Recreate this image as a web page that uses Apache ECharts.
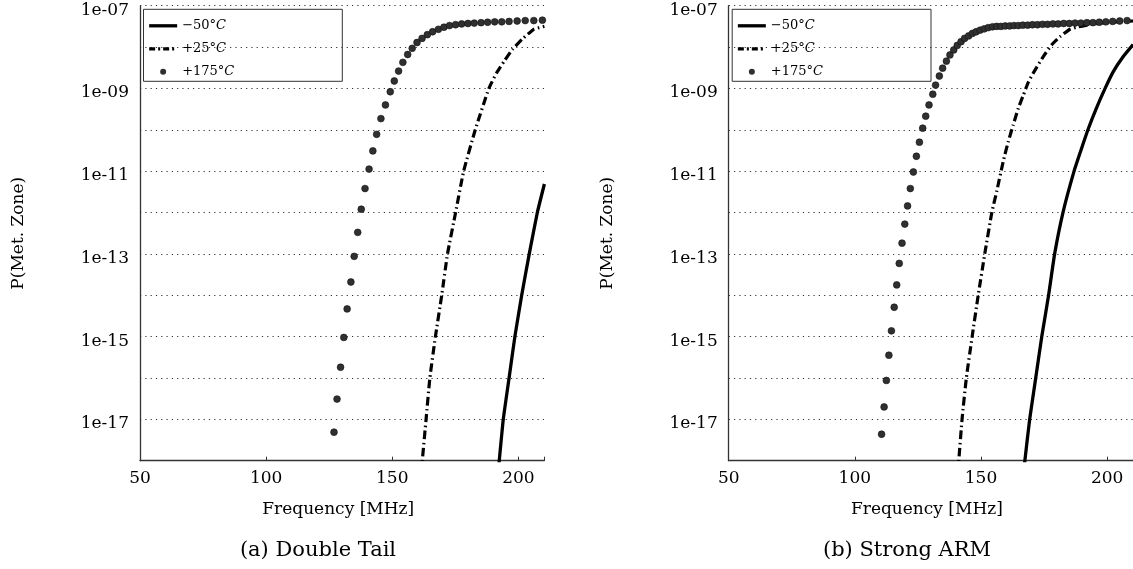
<!DOCTYPE html>
<html><head><meta charset="utf-8">
<script src="https://cdn.jsdelivr.net/npm/echarts@6/dist/echarts.min.js"></script>
<style>html,body{margin:0;padding:0;background:#fff}#c{width:1133px;height:569px}</style>
</head><body><div id="c"></div>
<script>
// ---- labels ----
const seriesNames = ['\u221250\u00b0C', '+25\u00b0C', '+175\u00b0C'];
const subplotTitles = ['(a) Double Tail', '(b) Strong ARM'];
const xAxisTitle = 'Frequency [MHz]';
const yAxisTitle = 'P(Met. Zone)';
const xTickValues = [50, 100, 150, 200];
const yLabelExponents = [-7, -9, -11, -13, -15, -17];
const xRange = [50, 210.3];
const yExpRange = [-18, -7];

// ---- (a) Double Tail : frequency [MHz] and log10 P ----
const dtFreqM50 = [192.1, 192.4, 194.0, 196.3, 198.6, 201.3, 204.3, 207.5, 210.3];
const dtLogPM50 = [-18.2, -18.0, -17.0, -16.0, -15.0, -14.0, -13.0, -12.0, -11.31];
const dtFreqP25 = [161.6, 161.9, 163.4, 164.9, 167.1, 169.6, 171.9, 175.1, 178.3, 182.9, 188.3, 191.5, 194.4, 197.6, 201.5, 206.1, 210.3];
const dtLogPP25 = [-18.3, -18.0, -17.0, -16.0, -15.0, -14.0, -13.0, -12.0, -11.0, -10.0, -9.0, -8.61, -8.34, -8.06, -7.81, -7.57, -7.50];
const dtFreqP175 = [126.9, 128.1, 129.5, 130.8, 132.1, 133.6, 134.9, 136.3, 137.7, 139.2, 140.8, 142.3, 143.8, 145.5, 147.3, 149.2, 150.8, 152.5, 154.2, 156.1, 157.9, 159.8, 161.8, 163.9, 166.0, 168.3, 170.5, 172.7, 175.1, 177.5, 180.0, 182.5, 185.2, 187.8, 190.6, 193.4, 196.3, 199.5, 202.7, 206.1, 209.5];
const dtLogPP175 = [-17.31, -16.51, -15.74, -15.02, -14.33, -13.68, -13.06, -12.48, -11.92, -11.42, -10.95, -10.51, -10.11, -9.73, -9.40, -9.08, -8.82, -8.58, -8.37, -8.18, -8.03, -7.89, -7.79, -7.70, -7.63, -7.57, -7.52, -7.48, -7.46, -7.44, -7.43, -7.42, -7.41, -7.40, -7.39, -7.39, -7.38, -7.37, -7.36, -7.36, -7.35];

// ---- (b) Strong ARM ----
const saFreqM50 = [167.1, 167.4, 169.3, 171.7, 174.1, 176.8, 179.2, 182.5, 186.9, 189.6, 192.4, 195.6, 199.2, 202.4, 206.4, 210.3];
const saLogPM50 = [-18.2, -18.0, -17.0, -16.0, -15.0, -14.0, -13.0, -12.0, -11.0, -10.5, -10.0, -9.5, -9.0, -8.60, -8.23, -7.94];
const saFreqP25 = [140.9, 141.2, 142.5, 144.2, 146.5, 148.9, 151.5, 154.3, 156.2, 158.8, 160.8, 162.8, 164.8, 166.8, 168.7, 171.0, 174.7, 178.0, 181.3, 185.3, 188.6, 195.0, 202.0, 210.3];
const saLogPP25 = [-18.3, -18.0, -17.0, -16.0, -15.0, -14.0, -13.0, -12.0, -11.5, -10.77, -10.29, -9.88, -9.48, -9.16, -8.86, -8.60, -8.23, -7.95, -7.75, -7.57, -7.51, -7.44, -7.40, -7.37];
const saFreqP175 = [110.6, 111.6, 112.5, 113.5, 114.5, 115.6, 116.6, 117.6, 118.7, 119.8, 120.9, 122.0, 123.2, 124.4, 125.6, 126.9, 128.1, 129.4, 130.9, 132.0, 133.5, 134.8, 136.3, 137.7, 139.2, 140.6, 142.1, 143.5, 145.1, 146.6, 148.1, 149.7, 151.3, 152.9, 154.6, 156.2, 157.9, 159.6, 161.4, 163.1, 164.8, 166.6, 168.5, 170.4, 172.4, 174.4, 176.4, 178.5, 180.6, 182.8, 185.0, 187.3, 189.6, 192.0, 194.4, 196.9, 199.5, 202.2, 205.0, 207.9];
const saLogPP175 = [-17.36, -16.70, -16.06, -15.45, -14.86, -14.29, -13.75, -13.23, -12.74, -12.28, -11.84, -11.42, -11.02, -10.64, -10.30, -9.96, -9.67, -9.40, -9.14, -8.92, -8.70, -8.51, -8.34, -8.19, -8.07, -7.96, -7.87, -7.79, -7.73, -7.67, -7.63, -7.59, -7.56, -7.53, -7.51, -7.50, -7.50, -7.49, -7.49, -7.48, -7.48, -7.47, -7.47, -7.46, -7.46, -7.45, -7.45, -7.44, -7.44, -7.43, -7.43, -7.42, -7.42, -7.41, -7.41, -7.40, -7.39, -7.38, -7.37, -7.36];

// ---- build ----
const FONT = 'DejaVu Serif';
const zip = (a, b) => a.map((v, i) => [v, b[i]]);
const panels = [
  { m50: zip(dtFreqM50, dtLogPM50), p25: zip(dtFreqP25, dtLogPP25), p175: zip(dtFreqP175, dtLogPP175) },
  { m50: zip(saFreqM50, saLogPM50), p25: zip(saFreqP25, saLogPP25), p175: zip(saFreqP175, saLogPP175) }
];
const gridLefts = [140, 728.7];
const subtitleX = [318, 907];
const dashDot = [8.5, 3.5, 1.5, 3.5];

const grids = [], xAxes = [], yAxes = [], series = [], legends = [], graphics = [];
panels.forEach((p, i) => {
  grids.push({ left: gridLefts[i], top: 5.7, width: 404.4, height: 455, containLabel: false, outerBoundsMode: 'none' });
  xAxes.push({
    type: 'value', gridIndex: i, min: xRange[0], max: xRange[1], interval: 50,
    name: xAxisTitle, nameLocation: 'middle', nameGap: 40,
    nameTextStyle: { fontFamily: FONT, fontSize: 17, color: '#000', padding: [0, 8, 0, 0] },
    axisLine: { show: true, onZero: false, lineStyle: { color: '#333', width: 1.3 } },
    axisTick: { show: true, inside: true, length: 4, lineStyle: { color: '#333' } },
    axisLabel: { margin: 9, fontFamily: FONT, fontSize: 17, color: '#000',
      formatter: v => xTickValues.includes(v) ? String(v) : '' },
    splitLine: { show: false }
  });
  yAxes.push({
    type: 'value', gridIndex: i, min: yExpRange[0], max: yExpRange[1], interval: 1,
    name: yAxisTitle, nameLocation: 'middle', nameGap: 113,
    nameTextStyle: { fontFamily: FONT, fontSize: 17, color: '#000' },
    axisLine: { show: true, onZero: false, lineStyle: { color: '#333', width: 1.3 } },
    axisTick: { show: false },
    axisLabel: { margin: 11, fontFamily: FONT, fontSize: 17, color: '#000',
      formatter: v => yLabelExponents.includes(v) ? '{e|1e-' + String(-v).padStart(2, '0') + '}' : '',
      rich: { e: { fontFamily: FONT, fontSize: 17, color: '#000', padding: [9, 0, 0, 0] } } },
    splitLine: { show: true, lineStyle: { type: [1.2, 4.1], color: '#333', width: 1 } }
  });
  series.push({
    name: seriesNames[0], type: 'line', xAxisIndex: i, yAxisIndex: i, data: p.m50,
    symbol: 'none', smooth: 0.15,
    lineStyle: { color: '#000', width: 3.3, cap: 'butt', join: 'round' }, itemStyle: { color: '#000' }, z: 2
  });
  series.push({
    name: seriesNames[1], type: 'line', xAxisIndex: i, yAxisIndex: i, data: p.p25,
    symbol: 'none', smooth: 0.15,
    lineStyle: { color: '#000', width: 3.2, type: dashDot, cap: 'butt', join: 'round' }, itemStyle: { color: '#000' }, z: 2
  });
  series.push({
    name: seriesNames[2], type: 'scatter', xAxisIndex: i, yAxisIndex: i, data: p.p175,
    symbol: 'circle', symbolSize: 6.8,
    itemStyle: { color: '#303030', borderColor: '#111', borderWidth: 0.6, opacity: 1 }, z: 3
  });
  legends.push({
    left: gridLefts[i] + 3.5, top: 9.3, orient: 'vertical',
    data: [
      { name: seriesNames[0], itemStyle: { opacity: 0 }, lineStyle: { width: 3.3, color: '#000' } },
      { name: seriesNames[1], itemStyle: { opacity: 0 }, lineStyle: { width: 3.2, color: '#000', type: [6, 3, 2, 3] } },
      { name: seriesNames[2], itemStyle: { borderWidth: 0 } }
    ],
    padding: [10, 108, 3, 4], itemGap: 10, itemWidth: 28, itemHeight: 6,
    borderColor: '#333', borderWidth: 1, borderRadius: 0, backgroundColor: 'transparent',
    selectedMode: false,
    formatter: n => '{t|' + n.slice(0, -1) + '}{i|C}',
    textStyle: { fontFamily: FONT, fontSize: 13, color: '#000',
      rich: { t: { fontFamily: FONT, fontSize: 13, color: '#000' },
              i: { fontFamily: FONT, fontSize: 13, color: '#000', fontStyle: 'italic' } } }
  });
  graphics.push({
    type: 'text', x: subtitleX[i], y: 551,
    style: { text: subplotTitles[i], fill: '#000', font: '21px "DejaVu Serif"',
      align: 'center', verticalAlign: 'middle', textAlign: 'center', textVerticalAlign: 'middle' }
  });
});

const chart = echarts.init(document.getElementById('c'), null, { renderer: 'canvas' });
chart.setOption({
  animation: false,
  backgroundColor: '#fff',
  textStyle: { fontFamily: FONT },
  grid: grids, xAxis: xAxes, yAxis: yAxes, series: series, legend: legends, graphic: graphics
});
</script></body></html>
